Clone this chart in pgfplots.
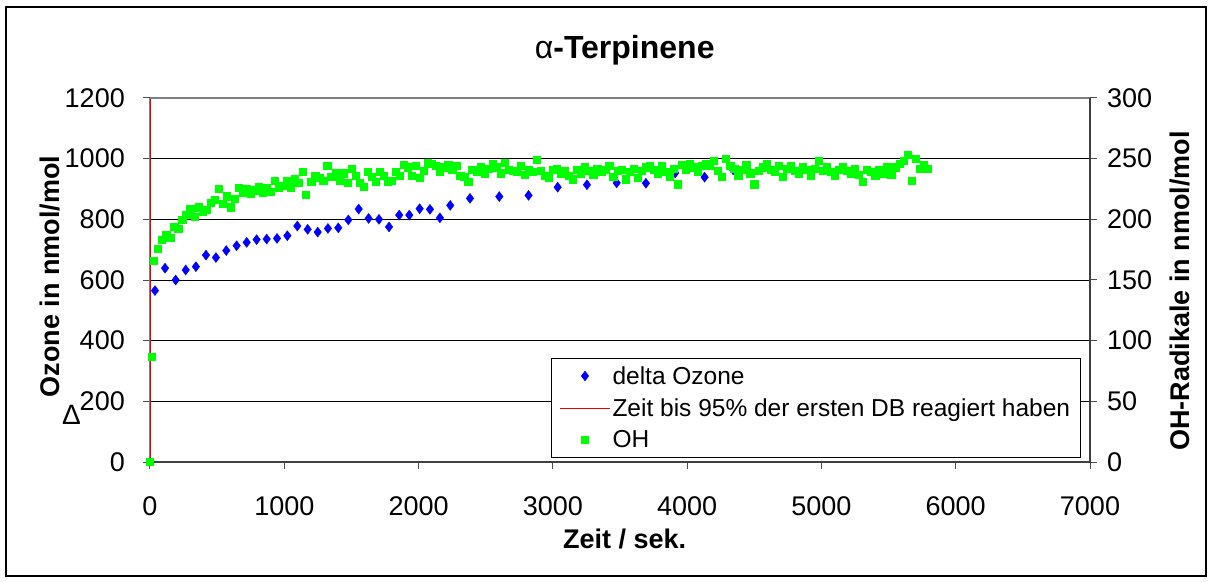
\documentclass[border=0pt]{standalone}
\usepackage{fontspec}
\setmainfont{Liberation Sans}
\usepackage{pgfplots}
\pgfplotsset{compat=1.18}
\usepackage{pgfplotstable}

\definecolor{ozoneblue}{RGB}{0,0,255}
\definecolor{ohgreen}{RGB}{0,255,0}
\definecolor{axgray}{RGB}{128,128,128}
\definecolor{markerred}{RGB}{230,0,0}

% delta ozone (nmol/mol) against time (s)
\pgfplotstableread{
t oz
37 565
112 639
191 600
266 633
342 644
417 682
491 674
568 697
645 713
720 724
794 733
869 735
946 737
1023 746
1097 778
1174 767
1249 758
1325 770
1402 772
1477 798
1554 834
1628 803
1705 800
1780 775
1856 814
1931 814
2008 835
2085 833
2159 805
2236 846
2383 869
2601 875
2819 879
3036 906
3254 914
3475 920
3693 919
3911 953
4130 939
4343 963
}\ozone

% OH radicals (nmol/mol) against time (s)
\pgfplotstableread{
t oh
0 0
12 87
30 166
60 176
90 183
120 187
150 185
180 194
210 192
240 200
270 204
300 209
330 202
360 210
390 206
420 208
450 214
480 216
510 225
540 213
570 219
600 210
630 217
660 226
690 222
720 225
750 221
780 224
810 227
840 222
870 226
900 223
930 232
960 226
990 228
1020 232
1050 226
1080 233
1110 230
1140 239
1160 220
1200 231
1230 236
1260 234
1290 232
1320 244
1350 235
1380 238
1410 232
1440 238
1470 230
1500 242
1530 236
1560 230
1590 227
1620 239
1650 235
1680 231
1710 239
1740 236
1770 231
1800 232
1830 239
1860 236
1890 245
1920 243
1950 236
1980 244
2010 234
2040 240
2070 247
2100 246
2130 244
2160 239
2190 243
2220 245
2250 241
2280 244
2310 236
2340 235
2370 231
2400 241
2430 239
2460 243
2490 238
2520 242
2550 246
2580 243
2610 238
2640 247
2670 241
2700 240
2730 239
2760 244
2790 237
2820 241
2850 239
2880 249
2910 240
2940 236
2970 234
3000 241
3030 242
3060 238
3090 240
3120 236
3150 233
3180 241
3210 238
3240 243
3270 240
3300 237
3330 242
3360 239
3390 241
3420 244
3450 235
3480 240
3510 241
3540 233
3570 239
3600 242
3630 234
3660 240
3690 243
3720 244
3750 241
3780 238
3810 244
3840 239
3870 235
3900 242
3930 229
3960 245
3990 241
4020 246
4050 243
4080 239
4110 244
4140 246
4170 244
4200 248
4230 240
4260 235
4290 250
4320 244
4350 242
4380 236
4410 241
4440 245
4470 238
4500 229
4530 240
4560 243
4590 246
4620 241
4650 239
4680 244
4710 235
4740 242
4770 244
4800 240
4830 238
4860 243
4890 241
4920 236
4950 242
4980 248
5010 240
5040 243
5070 239
5100 236
5130 241
5160 243
5190 240
5220 238
5250 242
5280 237
5310 231
5340 241
5370 239
5400 236
5430 241
5460 238
5490 243
5520 237
5550 243
5580 246
5610 248
5640 253
5670 232
5700 250
5730 242
5760 245
5790 242
}\ohdata

\begin{document}
\begin{tikzpicture}
\useasboundingbox (-150pt,-119pt) rectangle (1065pt,462pt);
\draw[black,line width=1.2pt] (-144pt,-114pt) rectangle (1056pt,455pt);

\pgfplotsset{
  common/.style={
    scale only axis, width=940pt, height=364pt,
    xmin=0, xmax=7000, clip=false,
    tick align=outside, major tick length=7pt,
    tick style={draw=black!70, line width=1pt},
    tick label style={font=\fontsize{27}{32}\selectfont, inner sep=0pt},
    /pgf/number format/assume math mode=true,
    /pgf/number format/set thousands separator={},
    label style={font=\fontsize{27}{32}\selectfont\bfseries},
  }
}

\begin{axis}[common,
  ymin=0, ymax=1200, ytick={0,200,...,1200}, xtick={0,1000,...,7000},
  axis x line*=bottom, axis y line*=left,
  x axis line style={draw=black!75, line width=1.6pt, -},
  y axis line style={draw=axgray, line width=1.5pt, -},
  ymajorgrids, major grid style={draw=black, line width=1pt},
  xticklabel shift=27pt, yticklabel shift=18pt,
  xlabel={Zeit / sek.},
  xlabel style={at={(axis description cs:0.505,-0.239)}, anchor=base},
  ylabel={Ozone in nmol/mol},
  ylabel style={at={(axis description cs:-0.1064,0.51)}, anchor=center},
  title={\textmd{α}-Terpinene},
  title style={at={(axis description cs:0.505,1.0907)}, anchor=base,
    font=\fontsize{32}{36}\selectfont\bfseries},
]
\addplot[only marks, mark=diamond*, mark size=5pt, color=ozoneblue]
  table[x=t, y=oz] {\ozone};
\addplot[draw=markerred, line width=1.5pt] coordinates {(5,0) (5,1200)};
\draw[axgray, line width=1.5pt] (rel axis cs:0,1) -- (rel axis cs:1,1);
\node[font=\fontsize{28}{32}\selectfont, anchor=base]
  at (axis description cs:-0.0835,0.103) {Δ};
\end{axis}

\begin{axis}[common,
  ymin=0, ymax=300, ytick={0,50,...,300},
  axis y line*=right, axis x line=none,
  y axis line style={draw=black!75, line width=2pt, -},
  yticklabel shift=10pt,
  ylabel={OH-Radikale in nmol/mol},
  ylabel style={at={(axis description cs:1.0957,0.47)}, anchor=center},
  legend style={at={(axis description cs:0.4266,0.011)}, anchor=south west,
    draw=black, line width=1pt, fill=white,
    font=\fontsize{24.5}{29}\selectfont, row sep=9pt,
    inner xsep=8pt, inner ysep=6pt,
    /tikz/every even column/.append style={column sep=5pt}},
  legend cell align=left,
  legend image code/.code={\draw[mark repeat=2,mark phase=2,#1]
    plot coordinates {(0pt,0pt) (25pt,0pt) (50pt,0pt)};},
]
\addlegendimage{only marks, mark=diamond*, mark size=4.5pt, color=ozoneblue}
\addlegendentry{delta Ozone}
\addlegendimage{draw=markerred, line width=1pt}
\addlegendentry{Zeit bis 95\% der ersten DB reagiert haben}
\addplot[only marks, mark=square*, mark size=3.6pt, color=ohgreen]
  table[x=t, y=oh] {\ohdata};
\addlegendentry{OH}
\end{axis}
\end{tikzpicture}
\end{document}
